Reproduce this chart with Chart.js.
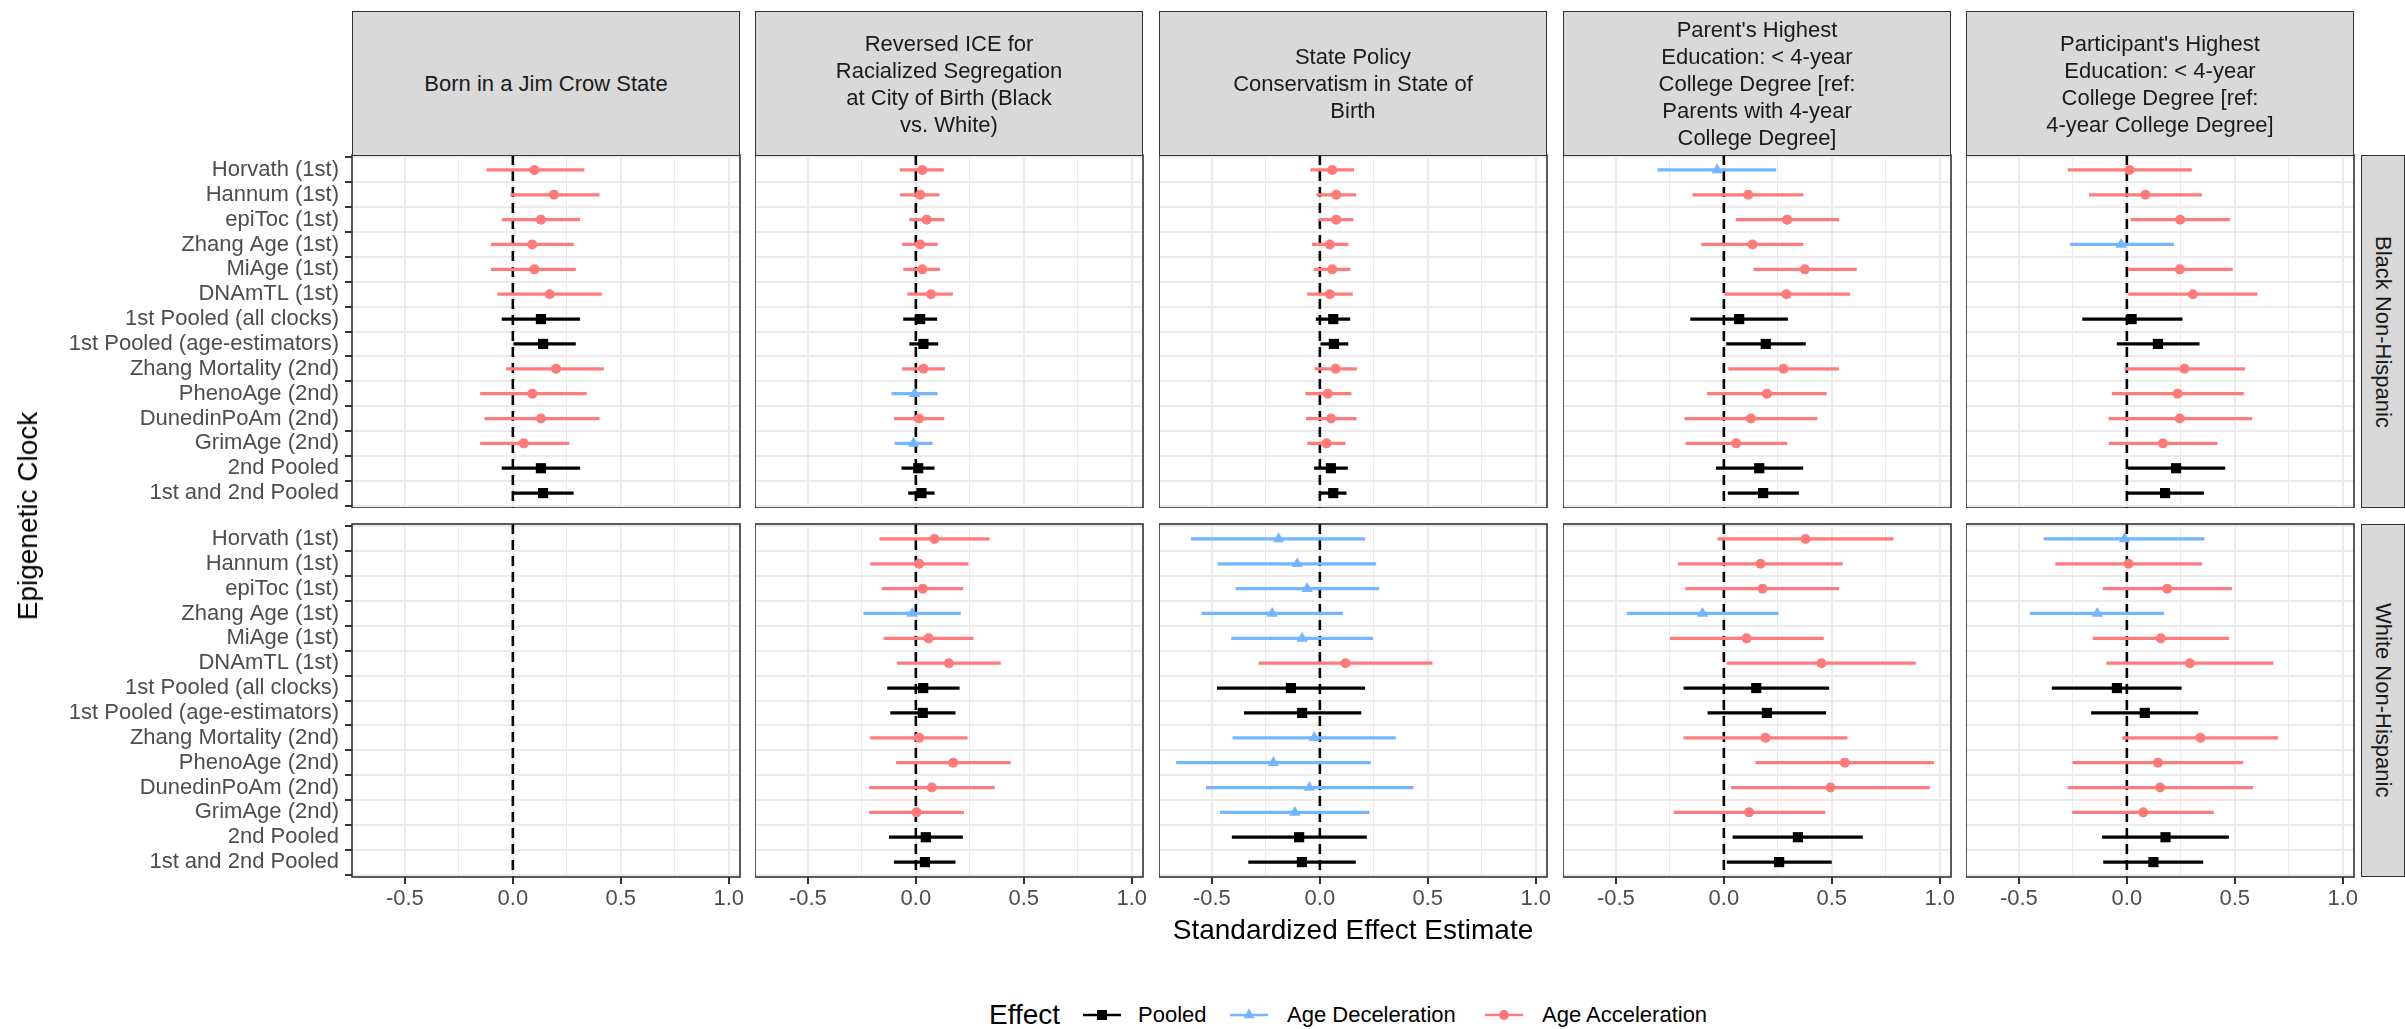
<!DOCTYPE html>
<html>
<head>
<meta charset="utf-8">
<script src="https://cdn.jsdelivr.net/npm/chart.js@4.4.1/dist/chart.umd.min.js"></script>
<style>
  html, body { margin: 0; padding: 0; background: #fff; }
  body { width: 2405px; height: 1029px; position: relative; overflow: hidden;
         font-family: "Liberation Sans", Arial, Helvetica, sans-serif; }
  canvas { position: absolute; }
  .strip { position: absolute; box-sizing: border-box; background: #d9d9d9; border: 1.6px solid #333;
           color: #1a1a1a; font-size: 22px; line-height: 27px; display: flex; align-items: center;
           justify-content: center; text-align: center; white-space: pre-line; }
  .side { writing-mode: vertical-rl; }
  .txt { position: absolute; white-space: nowrap; color: #000; }
  .legend-key { position: absolute; }
</style>
</head>
<body>
<script>
// rows of every panel, top to bottom
const clocks = [
  'Horvath (1st)', 'Hannum (1st)', 'epiToc (1st)', 'Zhang Age (1st)', 'MiAge (1st)', 'DNAmTL (1st)',
  '1st Pooled (all clocks)', '1st Pooled (age-estimators)', 'Zhang Mortality (2nd)', 'PhenoAge (2nd)',
  'DunedinPoAm (2nd)', 'GrimAge (2nd)', '2nd Pooled', '1st and 2nd Pooled'
];
const exposures = [
  'Born in a Jim Crow State',
  'Reversed ICE for\nRacialized Segregation\nat City of Birth (Black\nvs. White)',
  'State Policy\nConservatism in State of\nBirth',
  "Parent's Highest\nEducation: < 4-year\nCollege Degree [ref:\nParents with 4-year\nCollege Degree]",
  "Participant's Highest\nEducation: < 4-year\nCollege Degree [ref:\n4-year College Degree]"
];
const groups = ['Black Non-Hispanic', 'White Non-Hispanic'];
const effects = ['Pooled', 'Age Deceleration', 'Age Acceleration'];
const xTicks = [-0.5, -0.25, 0, 0.25, 0.5, 0.75, 1];
const xMajor = [-0.5, 0, 0.5, 1];

// Black Non-Hispanic (P = pooled, D = deceleration, A = acceleration)
const bJimEst = [0.10, 0.19, 0.13, 0.09, 0.10, 0.17, 0.13, 0.14, 0.20, 0.09, 0.13, 0.05, 0.13, 0.14];
const bJimLo  = [-0.12, -0.01, -0.05, -0.10, -0.10, -0.07, -0.05, 0.00, -0.03, -0.15, -0.13, -0.15, -0.05, 0.00];
const bJimHi  = [0.33, 0.40, 0.31, 0.28, 0.29, 0.41, 0.31, 0.29, 0.42, 0.34, 0.40, 0.26, 0.31, 0.28];
const bJimEff = 'AAAAAAPPAAAAPP';

const bIceEst = [0.03, 0.02, 0.05, 0.02, 0.03, 0.07, 0.02, 0.035, 0.035, -0.006, 0.015, -0.011, 0.011, 0.026];
const bIceLo  = [-0.073, -0.071, -0.029, -0.062, -0.057, -0.037, -0.057, -0.029, -0.062, -0.111, -0.10, -0.097, -0.065, -0.034];
const bIceHi  = [0.128, 0.108, 0.131, 0.099, 0.111, 0.17, 0.097, 0.102, 0.133, 0.099, 0.13, 0.076, 0.085, 0.085];
const bIceEff = 'AAAAAAPPADADPP';

const bPolEst = [0.057, 0.076, 0.076, 0.046, 0.057, 0.046, 0.062, 0.065, 0.073, 0.037, 0.052, 0.031, 0.051, 0.062];
const bPolLo  = [-0.042, -0.014, -0.003, -0.035, -0.026, -0.057, -0.017, 0.0, -0.023, -0.065, -0.063, -0.056, -0.025, 0.002];
const bPolHi  = [0.157, 0.167, 0.154, 0.13, 0.14, 0.151, 0.139, 0.13, 0.17, 0.145, 0.168, 0.117, 0.128, 0.122];
const bPolEff = 'AAAAAAPPAAAAPP';

const bParEst = [-0.031, 0.113, 0.293, 0.133, 0.375, 0.29, 0.071, 0.194, 0.276, 0.199, 0.125, 0.057, 0.164, 0.182];
const bParLo  = [-0.306, -0.144, 0.057, -0.103, 0.139, 0.0, -0.154, 0.012, 0.022, -0.076, -0.181, -0.176, -0.035, 0.02];
const bParHi  = [0.241, 0.367, 0.532, 0.367, 0.614, 0.583, 0.295, 0.378, 0.531, 0.475, 0.432, 0.292, 0.366, 0.346];
const bParEff = 'DAAAAAPPAAAAPP';

const bOwnEst = [0.012, 0.086, 0.247, -0.026, 0.245, 0.306, 0.022, 0.144, 0.267, 0.235, 0.245, 0.167, 0.228, 0.177];
const bOwnLo  = [-0.272, -0.174, 0.019, -0.261, 0.006, 0.008, -0.205, -0.045, -0.009, -0.068, -0.083, -0.083, 0.005, 0.002];
const bOwnHi  = [0.299, 0.346, 0.477, 0.216, 0.489, 0.603, 0.256, 0.335, 0.546, 0.54, 0.579, 0.418, 0.454, 0.355];
const bOwnEff = 'AAADAAPPAAAAPP';

// White Non-Hispanic (no Jim Crow estimates)
const wJimEst = [];
const wJimLo  = [];
const wJimHi  = [];
const wJimEff = '';

const wIceEst = [0.086, 0.015, 0.032, -0.017, 0.059, 0.153, 0.034, 0.032, 0.015, 0.173, 0.074, 0.003, 0.046, 0.042];
const wIceLo  = [-0.167, -0.21, -0.156, -0.241, -0.148, -0.086, -0.131, -0.117, -0.21, -0.09, -0.215, -0.215, -0.123, -0.10];
const wIceHi  = [0.34, 0.242, 0.218, 0.207, 0.265, 0.392, 0.201, 0.182, 0.238, 0.438, 0.364, 0.221, 0.216, 0.182];
const wIceEff = 'AAADAAPPAAAAPP';

const wPolEst = [-0.191, -0.105, -0.059, -0.221, -0.082, 0.119, -0.134, -0.082, -0.026, -0.215, -0.048, -0.116, -0.096, -0.083];
const wPolLo  = [-0.596, -0.472, -0.389, -0.546, -0.409, -0.282, -0.475, -0.35, -0.403, -0.664, -0.526, -0.461, -0.406, -0.33];
const wPolHi  = [0.208, 0.259, 0.273, 0.105, 0.245, 0.52, 0.208, 0.19, 0.35, 0.235, 0.432, 0.228, 0.216, 0.165];
const wPolEff = 'DDDDDAPPDDDDPP';

const wParEst = [0.378, 0.17, 0.179, -0.099, 0.105, 0.452, 0.15, 0.199, 0.193, 0.56, 0.494, 0.117, 0.343, 0.256];
const wParLo  = [-0.028, -0.211, -0.177, -0.448, -0.248, 0.015, -0.185, -0.074, -0.185, 0.148, 0.035, -0.231, 0.042, 0.015];
const wParHi  = [0.784, 0.549, 0.532, 0.252, 0.461, 0.887, 0.486, 0.472, 0.571, 0.971, 0.952, 0.468, 0.642, 0.498];
const wParEff = 'AAADAAPPAAAAPP';

const wOwnEst = [-0.011, 0.008, 0.187, -0.137, 0.157, 0.292, -0.046, 0.083, 0.341, 0.144, 0.154, 0.076, 0.179, 0.123];
const wOwnLo  = [-0.384, -0.33, -0.11, -0.448, -0.156, -0.093, -0.346, -0.164, -0.02, -0.25, -0.273, -0.252, -0.113, -0.108];
const wOwnHi  = [0.358, 0.346, 0.485, 0.171, 0.471, 0.677, 0.252, 0.329, 0.699, 0.537, 0.583, 0.401, 0.471, 0.352];
const wOwnEff = 'DAADAAPPAAAAPP';

const panels = [
  [bJimEst, bJimLo, bJimHi, bJimEff], [bIceEst, bIceLo, bIceHi, bIceEff], [bPolEst, bPolLo, bPolHi, bPolEff],
  [bParEst, bParLo, bParHi, bParEff], [bOwnEst, bOwnLo, bOwnHi, bOwnEff],
  [wJimEst, wJimLo, wJimHi, wJimEff], [wIceEst, wIceLo, wIceHi, wIceEff], [wPolEst, wPolLo, wPolHi, wPolEff],
  [wParEst, wParLo, wParHi, wParEff], [wOwnEst, wOwnLo, wOwnHi, wOwnEff]
];

const colors = { P: '#000000', D: '#74b6ff', A: '#ff7b7b' };
const shapes = { P: 'rect', D: 'triangle', A: 'circle' };
const radii  = { P: 7.2, D: 6.6, A: 5 };
const FONT = '"Liberation Sans", Arial, Helvetica, sans-serif';

// layout of the facet grid
const panelLeft = [352, 755, 1159, 1563, 1966];
const panelW = 388;
const rowTop = [155, 524];
const panelH = 353;
const padR = 20, padT = 10;
const yAxisW = 352;
const xAxisH = 60;

const panelDeco = {
  id: 'panelDeco',
  beforeDatasetsDraw(chart) {
    const { ctx, chartArea: a, scales: { x } } = chart;
    const px = x.getPixelForValue(0);
    ctx.save();
    ctx.strokeStyle = '#000';
    ctx.lineWidth = 2.6;
    ctx.setLineDash([10, 6]);
    ctx.beginPath();
    ctx.moveTo(px, a.top);
    ctx.lineTo(px, a.bottom);
    ctx.stroke();
    ctx.restore();
  },
  afterDraw(chart) {
    const { ctx, chartArea: a } = chart;
    ctx.save();
    ctx.strokeStyle = '#333333';
    ctx.lineWidth = 1.6;
    ctx.strokeRect(a.left, a.top, a.right - a.left, a.bottom - a.top);
    ctx.restore();
  }
};

panels.forEach(function(p, k) {
  const row = Math.floor(k / 5), col = k % 5;
  const est = p[0], lo = p[1], hi = p[2], eff = p[3].split('');
  const yW = col === 0 ? yAxisW : 0;
  const xH = row === 1 ? xAxisH : 0;

  const canvas = document.createElement('canvas');
  canvas.width = yW + panelW + padR;
  canvas.height = padT + panelH + xH;
  canvas.style.left = (panelLeft[col] - yW) + 'px';
  canvas.style.top = (rowTop[row] - padT) + 'px';
  document.body.appendChild(canvas);

  new Chart(canvas, {
    type: 'scatter',
    data: {
      datasets: [{
        type: 'scatter',
        order: 0,
        data: est.map((v, i) => ({ x: v, y: i })),
        pointStyle: ctx => shapes[eff[ctx.dataIndex]],
        pointRadius: ctx => radii[eff[ctx.dataIndex]],
        pointBackgroundColor: ctx => colors[eff[ctx.dataIndex]],
        pointBorderWidth: 0
      }, {
        type: 'bar',
        order: 1,
        indexAxis: 'y',
        grouped: false,
        barThickness: 2.6,
        data: lo.map((v, i) => ({ x: [v, hi[i]], y: i })),
        backgroundColor: ctx => colors[eff[ctx.dataIndex]],
        borderWidth: 0
      }]
    },
    options: {
      responsive: false,
      animation: false,
      events: [],
      layout: { autoPadding: false, padding: { top: padT, right: padR, left: 0, bottom: 0 } },
      plugins: { legend: { display: false }, tooltip: { enabled: false } },
      scales: {
        x: {
          type: 'linear', min: -0.745, max: 1.052, offset: false,
          border: { display: false },
          afterBuildTicks: s => { s.ticks = xTicks.map(v => ({ value: v })); },
          afterFit: s => { s.height = xH; s.paddingLeft = 0; s.paddingRight = 0; },
          grid: {
            color: '#ebebeb',
            lineWidth: c => (c.tick && xMajor.includes(c.tick.value)) ? 2 : 1,
            drawTicks: row === 1,
            tickLength: 7,
            tickColor: c => (c.tick && xMajor.includes(c.tick.value)) ? '#333333' : 'rgba(0,0,0,0)',
            tickWidth: 2
          },
          ticks: {
            display: row === 1, autoSkip: false, maxRotation: 0, padding: 2,
            color: '#4d4d4d', font: { family: FONT, size: 22 },
            callback: v => xMajor.includes(v) ? v.toFixed(1) : ''
          }
        },
        y: {
          type: 'linear', reverse: true, min: -0.6, max: 13.6, offset: false,
          border: { display: false },
          afterBuildTicks: s => { s.ticks = clocks.map((c, i) => ({ value: i })); },
          afterFit: s => { s.width = yW; s.paddingTop = 0; s.paddingBottom = 0; },
          grid: { color: '#ebebeb', lineWidth: 2, drawTicks: col === 0, tickLength: 7, tickColor: '#333333', tickWidth: 2 },
          ticks: {
            display: col === 0, autoSkip: false, padding: 6,
            color: '#4d4d4d', font: { family: FONT, size: 22 },
            callback: v => clocks[v]
          }
        }
      }
    },
    plugins: [panelDeco]
  });
});

// facet strips
exposures.forEach(function(t, col) {
  const d = document.createElement('div');
  d.className = 'strip';
  d.style.left = panelLeft[col] + 'px';
  d.style.top = '11px';
  d.style.width = panelW + 'px';
  d.style.height = (rowTop[0] - 11 + 1) + 'px';
  d.textContent = t;
  document.body.appendChild(d);
});
groups.forEach(function(g, row) {
  const d = document.createElement('div');
  d.className = 'strip side';
  d.style.left = '2361px';
  d.style.top = rowTop[row] + 'px';
  d.style.width = '44px';
  d.style.height = panelH + 'px';
  d.textContent = g;
  document.body.appendChild(d);
});

function addText(text, left, top, size, extra) {
  const d = document.createElement('div');
  d.className = 'txt';
  d.textContent = text;
  d.style.left = left + 'px';
  d.style.top = top + 'px';
  d.style.fontSize = size + 'px';
  d.style.lineHeight = size + 'px';
  if (extra) Object.assign(d.style, extra);
  document.body.appendChild(d);
  return d;
}

// axis titles
addText('Standardized Effect Estimate', 1353, 930 - 14, 28, { transform: 'translateX(-50%)' });
addText('Epigenetic Clock', 28, 516, 28, { transform: 'translate(-50%, -50%) rotate(-90deg)' });

// legend
addText('Effect', 989, 1015 - 14, 28);
const keyX = [1083, 1230, 1485];
const labX = [1138, 1287, 1542];
['P', 'D', 'A'].forEach(function(e, i) {
  const c = colors[e];
  let mark = '';
  if (e === 'P') mark = '<rect x="14" y="5" width="10" height="10" fill="' + c + '"/>';
  if (e === 'D') mark = '<polygon points="19,3.5 24.7,13.3 13.3,13.3" fill="' + c + '"/>';
  if (e === 'A') mark = '<circle cx="19" cy="10" r="5" fill="' + c + '"/>';
  const s = document.createElement('div');
  s.className = 'legend-key';
  s.style.left = keyX[i] + 'px';
  s.style.top = (1015 - 10) + 'px';
  s.innerHTML = '<svg width="38" height="20"><line x1="0" y1="10" x2="38" y2="10" stroke="' + c +
                '" stroke-width="2.6"/>' + mark + '</svg>';
  document.body.appendChild(s);
  addText(effects[i], labX[i], 1015 - 11, 22);
});
</script>
</body>
</html>
